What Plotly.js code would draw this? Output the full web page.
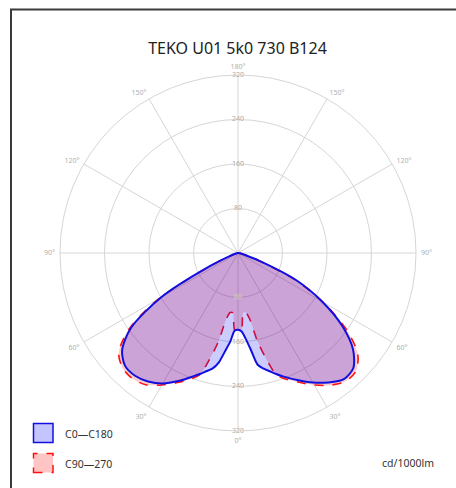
<!DOCTYPE html>
<html>
<head>
<meta charset="utf-8">
<script src="https://cdn.plot.ly/plotly-3.0.1.min.js"></script>
<style>
html,body{margin:0;padding:0;background:#fff;}
#chart{width:456px;height:488px;}
</style>
</head>
<body>
<div id="chart"></div>
<script>
// ---- data ----
const chartTitle = "TEKO U01 5k0 730 B124";
const unitLabel = "cd/1000lm";
const seriesNames = ["C0\u2014C180", "C90\u2014270"];
// vertical angle gamma (deg from nadir)
const gamma = [0, 2.5, 5, 7.5, 10, 12.5, 15, 17.5, 20, 25, 30, 35, 40, 45, 50, 55, 60, 65, 70, 75, 80, 85, 90];
// C0-C180 plane: right half (C0) and left half (C180)
const c0   = [138, 141, 154, 175, 204, 213, 220, 228, 236, 252, 269, 284, 296, 293, 270, 229, 175, 115, 40, 12, 5, 2, 0];
const c180 = [138, 140, 160, 178, 200, 213, 220, 228, 236, 254, 271, 282, 288, 287, 272, 235, 160, 55, 15, 5, 2, 1, 0];
// C90-C270 plane: right half (C90) and left half (C270)
const c90  = [138, 138, 108, 108, 120, 163, 198, 230, 240, 256, 274, 290, 301, 300, 281, 236, 176, 112, 38, 11, 4, 1, 0];
const c270 = [138, 138, 108, 108, 120, 163, 198, 230, 240, 257, 274, 289, 295, 293, 280, 240, 164, 52, 14, 4, 2, 1, 0];
// axis ticks
const radialTicks = [80, 160, 240, 320];
const angleTicks = [0, 30, 60, 90, 120, 150, 180, 210, 240, 270, 300, 330];
const angleTickText = ["0°", "30°", "60°", "90°", "120°", "150°", "180°", "150°", "120°", "90°", "60°", "30°"];

// ---- build ----
const W = 456, H = 488;
const px = x => x / W;
const py = y => 1 - y / H;
const FONT = "Noto Sans, Open Sans, sans-serif";

function plane(left, right) {
  const theta = [], r = [];
  for (let i = gamma.length - 1; i >= 0; i--) { theta.push(360 - gamma[i]); r.push(left[i]); }
  for (let i = 1; i < gamma.length; i++) { theta.push(gamma[i]); r.push(right[i]); }
  return {theta, r};
}

const pRed = plane(c270, c90);
const pBlue = plane(c180, c0);

const traces = [
  {
    type: 'scatterpolar', mode: 'lines', name: seriesNames[1],
    r: pRed.r, theta: pRed.theta, fill: 'toself',
    fillcolor: 'rgba(255,0,0,0.2)',
    line: {color: '#ff1010', width: 1.6, dash: 'dash', shape: 'spline', smoothing: 0.8},
    hoverinfo: 'skip'
  },
  {
    type: 'scatterpolar', mode: 'lines', name: seriesNames[0],
    r: pBlue.r, theta: pBlue.theta, fill: 'toself',
    fillcolor: 'rgba(0,0,255,0.2)',
    line: {color: '#1010e0', width: 2, shape: 'spline', smoothing: 0.8},
    hoverinfo: 'skip'
  },
  {
    type: 'scatterpolar', mode: 'text',
    r: radialTicks.concat(radialTicks),
    theta: radialTicks.map(() => 180).concat(radialTicks.map(() => 0)),
    text: radialTicks.map(String).concat(radialTicks.map(String)),
    textposition: 'middle center',
    textfont: {size: 7, color: '#a8a8a8', family: FONT,
      shadow: '0 0 1px #fff'},
    hoverinfo: 'skip', showlegend: false
  }
];

const layout = {
  width: W, height: H,
  margin: {l: 0, r: 0, t: 0, b: 0},
  paper_bgcolor: '#fff',
  showlegend: false,
  font: {family: FONT},
  title: {text: chartTitle, x: px(237.5), xanchor: 'center', y: py(48), yanchor: 'middle',
          font: {size: 16, color: '#222', family: FONT}},
  polar: {
    domain: {x: [px(60), px(416)], y: [py(431), py(75)]},
    bgcolor: 'rgba(0,0,0,0)',
    radialaxis: {range: [0, 320], tickmode: 'array', tickvals: radialTicks,
      showticklabels: false, ticks: '', showline: false,
      gridcolor: '#d6d6d6', gridwidth: 1},
    angularaxis: {rotation: -90, direction: 'counterclockwise',
      tickmode: 'array', tickvals: angleTicks, ticktext: angleTickText,
      ticks: 'outside', ticklen: 3, tickcolor: 'rgba(0,0,0,0)',
      gridcolor: '#d6d6d6', linecolor: '#d6d6d6', linewidth: 1,
      tickfont: {size: 7, color: '#b0b0b0', family: FONT}}
  },
  shapes: [
    {type: 'rect', xref: 'paper', yref: 'paper', x0: px(11), x1: 1.05, y0: -0.05, y1: py(9.5),
     line: {color: '#3a3a3a', width: 2}, fillcolor: 'rgba(0,0,0,0)', layer: 'below'},
    {type: 'rect', xref: 'paper', yref: 'paper', x0: px(33.5), x1: px(53), y0: py(442.5), y1: py(423.5),
     line: {color: '#1010e0', width: 1.5}, fillcolor: '#c4c4ff'},
    {type: 'rect', xref: 'paper', yref: 'paper', x0: px(33.5), x1: px(53), y0: py(472.5), y1: py(453.5),
     line: {color: '#ff1010', width: 1.5, dash: 'dash'}, fillcolor: '#ffc4c4'}
  ],
  annotations: [
    {xref: 'paper', yref: 'paper', x: px(63), y: py(434), xanchor: 'left', yanchor: 'middle',
     text: seriesNames[0], showarrow: false, font: {size: 10.5, color: '#333', family: FONT}},
    {xref: 'paper', yref: 'paper', x: px(63), y: py(464), xanchor: 'left', yanchor: 'middle',
     text: seriesNames[1], showarrow: false, font: {size: 10.5, color: '#333', family: FONT}},
    {xref: 'paper', yref: 'paper', x: px(436), y: py(463), xanchor: 'right', yanchor: 'middle',
     text: unitLabel, showarrow: false, font: {size: 10.5, color: '#333', family: FONT}}
  ]
};

Plotly.newPlot('chart', traces, layout, {displayModeBar: false, staticPlot: true});
</script>
</body>
</html>
